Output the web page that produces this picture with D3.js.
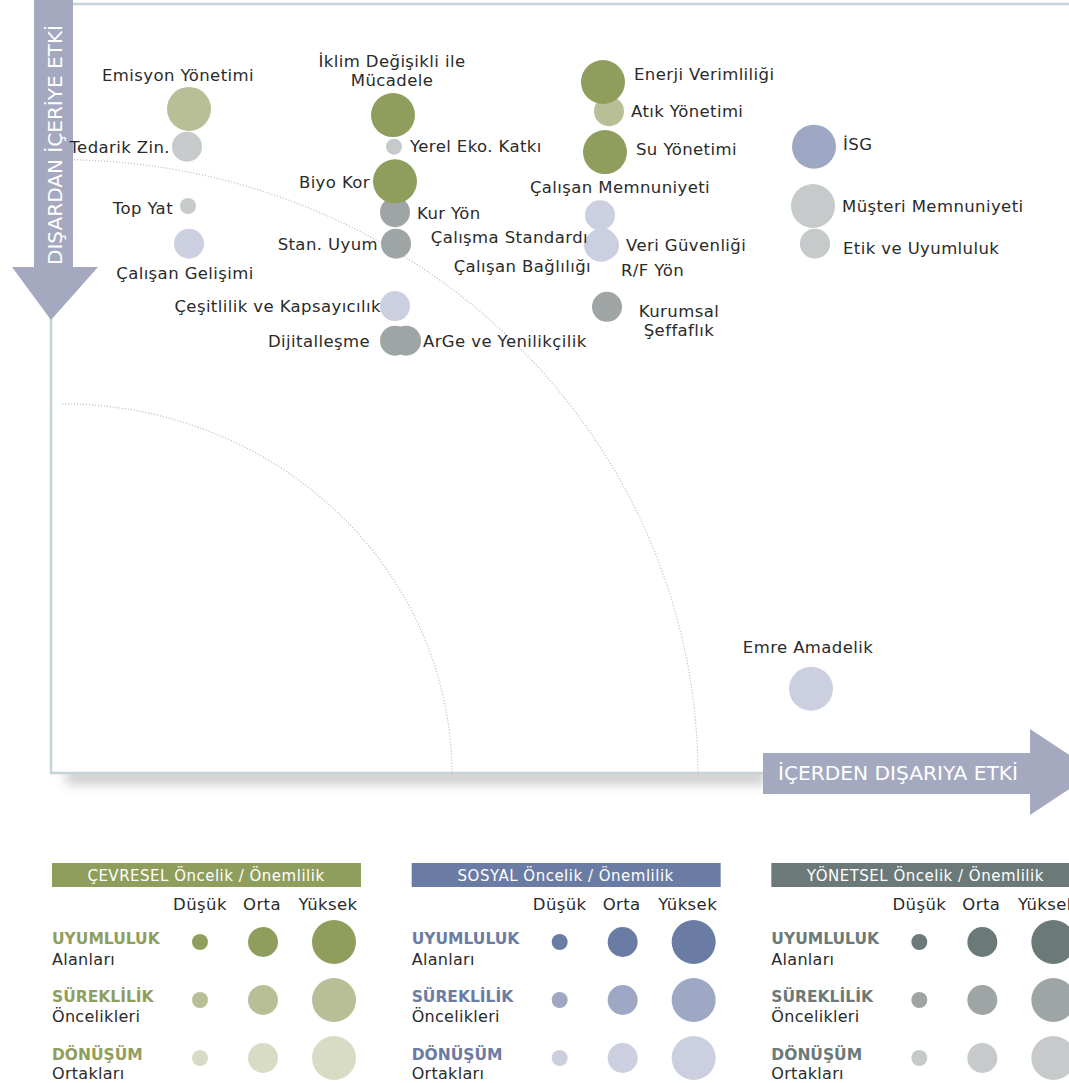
<!DOCTYPE html>
<html>
<head>
<meta charset="utf-8">
<script src="https://cdn.jsdelivr.net/npm/d3@7"></script>
<style>
  body { margin: 0; background: #fff; }
  text { font-family: "DejaVu Sans", sans-serif; }
</style>
</head>
<body>
<div id="chart"></div>
<script>
// topics on the matrix
var topics = ["Emisyon Yönetimi", "Tedarik Zin.", "Top Yat", "Çalışan Gelişimi",
  "İklim Değişikli ile|Mücadele", "Yerel Eko. Katkı", "Biyo Kor", "Kur Yön", "Stan. Uyum",
  "Çeşitlilik ve Kapsayıcılık", "Dijitalleşme", "ArGe ve Yenilikçilik",
  "Enerji Verimliliği", "Atık Yönetimi", "Su Yönetimi", "Çalışan Memnuniyeti",
  "Çalışma Standardı", "Veri Güvenliği", "Çalışan Bağlılığı", "R/F Yön",
  "Kurumsal|Şeffaflık", "İSG", "Müşteri Memnuniyeti", "Etik ve Uyumluluk", "Emre Amadelik"];
// içerden dışarıya etki (x)
var impactOut = [12.7, 12.5, 12.6, 12.7, 33.1, 33.2, 33.3, 33.3, 33.4, 33.3, 33.3, 34.4,
  54.1, 54.7, 54.3, 53.8, 53.7, 54.2, 53.9, 54.0, 54.5, 75.2, 75.1, 75.3, 74.9];
// dışardan içeriye etki (y)
var impactIn = [86.5, 81.6, 73.9, 69.0, 85.7, 81.6, 77.1, 73.1, 69.0, 60.9, 56.4, 56.4,
  90.0, 86.2, 80.9, 72.7, 68.8, 68.8, 68.6, 69.1, 60.8, 81.6, 73.9, 69.0, 11.2];
var pillar = ["env", "gov", "gov", "soc", "env", "gov", "env", "gov", "gov", "soc", "gov", "gov",
  "env", "env", "env", "soc", "soc", "soc", "soc", "soc", "gov", "soc", "gov", "gov", "soc"];
var tier = ["surek", "donus", "donus", "donus", "uyum", "donus", "uyum", "surek", "surek", "donus", "surek", "surek",
  "uyum", "surek", "uyum", "donus", "donus", "donus", "donus", "donus", "surek", "surek", "donus", "donus", "donus"];
var priority = [3, 2, 1, 2, 3, 1, 3, 2, 2, 2, 2, 2, 3, 2, 3, 2, 2, 2, 2, 2, 2, 3, 3, 2, 3];

// legend
var pillars = ["env", "soc", "gov"];
var pillarTitles = ["ÇEVRESEL Öncelik / Önemlilik", "SOSYAL Öncelik / Önemlilik", "YÖNETSEL Öncelik / Önemlilik"];
var levels = ["Düşük", "Orta", "Yüksek"];
var tiers = ["uyum", "surek", "donus"];
var tierTitles = ["UYUMLULUK", "SÜREKLİLİK", "DÖNÜŞÜM"];
var tierSubs = ["Alanları", "Öncelikleri", "Ortakları"];

// guide arcs (data units)
var zoneX = [39, 63.6];
var zoneY = [48.2, 79.9];

var colors = {
  env: {uyum: "#8f9e5d", surek: "#b8bf97", donus: "#d8dcc5"},
  soc: {uyum: "#6b7ca4", surek: "#9ea8c5", donus: "#cbcfe0"},
  gov: {uyum: "#6b7a78", surek: "#9fa5a5", donus: "#c6cacb"}
};

// label placement [dx, dy, anchor]
var labelPos = {
  "Emisyon Yönetimi": [-11, -28, "middle"],
  "Tedarik Zin.": [-17, 6, "end"],
  "Top Yat": [-15, 8, "end"],
  "Çalışan Gelişimi": [-4, 35, "middle"],
  "İklim Değişikli ile|Mücadele": [-1, -48, "middle"],
  "Yerel Eko. Katkı": [16, 5, "start"],
  "Biyo Kor": [-25, 7, "end"],
  "Kur Yön": [22, 7, "start"],
  "Stan. Uyum": [-18, 6, "end"],
  "Çeşitlilik ve Kapsayıcılık": [-14, 6, "end"],
  "Dijitalleşme": [-25, 6, "end"],
  "ArGe ve Yenilikçilik": [17, 6, "start"],
  "Enerji Verimliliği": [31, -2, "start"],
  "Atık Yönetimi": [22, 6, "start"],
  "Su Yönetimi": [31, 3, "start"],
  "Çalışan Memnuniyeti": [20, -22, "middle"],
  "Çalışma Standardı": [-11, -2, "end"],
  "Veri Güvenliği": [22, 6, "start"],
  "Çalışan Bağlılığı": [-10, 25, "end"],
  "R/F Yön": [19, 33, "start"],
  "Kurumsal|Şeffaflık": [72, 10, "middle"],
  "İSG": [29, 3, "start"],
  "Müşteri Memnuniyeti": [29, 6, "start"],
  "Etik ve Uyumluluk": [28, 10, "start"],
  "Emre Amadelik": [-3, -36, "middle"]
};

var width = 1069, height = 1083;

var svg = d3.select("#chart").append("svg")
    .attr("width", width)
    .attr("height", height);

var x = d3.scaleLinear().domain([0, 100]).range([62, 1062]);
var y = d3.scaleLinear().domain([0, 100]).range([775, 5]);
var r = d3.scaleLinear().domain([1, 3]).range([8, 22]);

// shadow under the frame
var defs = svg.append("defs");
defs.append("filter").attr("id", "blur")
    .attr("x", "-10%").attr("y", "-100%").attr("width", "120%").attr("height", "300%")
  .append("feGaussianBlur").attr("stdDeviation", 6);

svg.append("rect")
    .attr("x", 66).attr("y", 770)
    .attr("width", 700).attr("height", 14)
    .attr("fill", "#c9c9c9")
    .attr("filter", "url(#blur)");

// frame
svg.append("rect")
    .attr("x", 51).attr("y", 4)
    .attr("width", 1040).attr("height", 769)
    .attr("fill", "#fff")
    .attr("stroke", "#c7d3d8")
    .attr("stroke-width", 2.5);

// dotted guide arcs
zoneX.forEach(function(zx, i) {
  var cx = x(0), cy = y(0);
  var rx = x(zx) - x(0), ry = y(0) - y(zoneY[i]);
  svg.append("path")
      .attr("d", "M" + cx + "," + (cy - ry) + " A" + rx + "," + ry + " 0 0 1 " + (cx + rx) + "," + cy)
      .attr("fill", "none")
      .attr("stroke", "#b7c6ce")
      .attr("stroke-width", 1.2)
      .attr("stroke-dasharray", "1.2 1.8");
});

// arrows
svg.append("polygon")
    .attr("points", "34,0 73,0 73,267 98,267 51,320 12,267 34,267")
    .attr("fill", "#a5a9c0");
svg.append("text")
    .attr("transform", "translate(62,145) rotate(-90)")
    .attr("text-anchor", "middle")
    .attr("fill", "#fff")
    .attr("font-size", 19)
    .attr("textLength", 240)
    .attr("lengthAdjust", "spacingAndGlyphs")
    .style("font-family", "'DejaVu Sans Condensed', 'DejaVu Sans', sans-serif")
    .text("DIŞARDAN İÇERİYE ETKİ");

svg.append("polygon")
    .attr("points", "763,753 1030,753 1030,729 1095,772 1030,815 1030,794 763,794")
    .attr("fill", "#a5a9c0");
svg.append("text")
    .attr("x", 898).attr("y", 780)
    .attr("text-anchor", "middle")
    .attr("fill", "#fff")
    .attr("font-size", 19)
    .attr("textLength", 240)
    .attr("lengthAdjust", "spacingAndGlyphs")
    .style("font-family", "'DejaVu Sans Condensed', 'DejaVu Sans', sans-serif")
    .text("İÇERDEN DIŞARIYA ETKİ");

// bubbles
var data = topics.map(function(t, i) {
  return {name: t, x: impactOut[i], y: impactIn[i], pillar: pillar[i], tier: tier[i], p: priority[i]};
});

var sorted = data.slice().sort(function(a, b) { return a.p - b.p; });

svg.append("g").selectAll("circle")
    .data(sorted)
  .enter().append("circle")
    .attr("cx", function(d) { return x(d.x); })
    .attr("cy", function(d) { return y(d.y); })
    .attr("r", function(d) { return r(d.p); })
    .attr("fill", function(d) { return colors[d.pillar][d.tier]; });

var labels = svg.append("g").selectAll("text")
    .data(data)
  .enter().append("text")
    .attr("x", function(d) { return x(d.x) + labelPos[d.name][0]; })
    .attr("y", function(d) { return y(d.y) + labelPos[d.name][1]; })
    .attr("text-anchor", function(d) { return labelPos[d.name][2]; })
    .attr("font-size", 16.5)
    .attr("letter-spacing", 0.4)
    .attr("fill", "#2a2a2a");

labels.each(function(d) {
  var el = d3.select(this);
  d.name.split("|").forEach(function(line, j) {
    el.append("tspan")
        .attr("x", x(d.x) + labelPos[d.name][0])
        .attr("dy", j === 0 ? 0 : 19)
        .text(line);
  });
});

// legend
var legendX = d3.scaleBand().domain(pillars).range([52, 1131]).paddingInner(0);
var colX = d3.scaleOrdinal().domain(levels).range([148, 211, 282]);
var headX = d3.scaleOrdinal().domain(levels).range([148, 210, 276]);
var rowY = d3.scalePoint().domain(tiers).range([942, 1058]);

pillars.forEach(function(p, i) {
  var g = svg.append("g").attr("transform", "translate(" + (legendX(p)) + ",0)");
  g.append("rect")
      .attr("x", 0).attr("y", 863)
      .attr("width", 309).attr("height", 24)
      .attr("fill", colors[p].uyum);
  g.append("text")
      .attr("x", 154).attr("y", 881)
      .attr("text-anchor", "middle")
      .attr("fill", "#fff")
      .attr("font-size", 15)
      .attr("letter-spacing", 0.5)
      .text(pillarTitles[i]);

  levels.forEach(function(l) {
    g.append("text")
        .attr("x", headX(l)).attr("y", 910)
        .attr("text-anchor", "middle")
        .attr("fill", "#2a2a2a")
        .attr("font-size", 16.5)
        .attr("letter-spacing", 0.4)
        .text(l);
  });

  tiers.forEach(function(t, k) {
    g.append("text")
        .attr("x", 0).attr("y", rowY(t) + 2)
        .attr("fill", colors[p].uyum)
        .attr("font-size", 15.5)
        .attr("font-weight", "bold")
        .text(tierTitles[k]);
    g.append("text")
        .attr("x", 0).attr("y", rowY(t) + 23 - k)
        .attr("fill", "#2a2a2a")
        .attr("font-size", 16)
        .attr("letter-spacing", 0.3)
        .text(tierSubs[k]);
    levels.forEach(function(l, m) {
      g.append("circle")
          .attr("cx", colX(l))
          .attr("cy", rowY(t))
          .attr("r", r(m + 1))
          .attr("fill", colors[p][t]);
    });
  });
});
</script>
</body>
</html>
